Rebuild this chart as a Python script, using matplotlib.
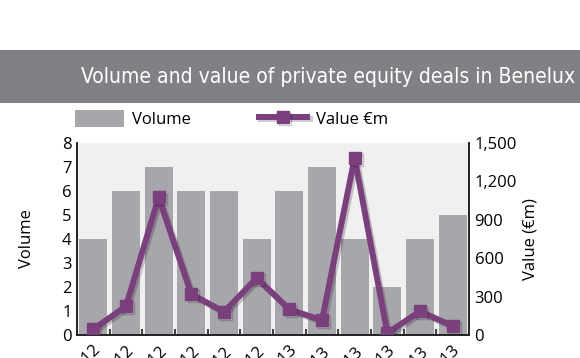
import matplotlib
matplotlib.use('Agg')
import matplotlib.pyplot as plt
import matplotlib.patheffects as pe
from matplotlib.patches import Rectangle
from matplotlib.ticker import FuncFormatter, FixedLocator

# --- data ---
months = ['Jul-12', 'Aug-12', 'Sep-12', 'Oct-12', 'Nov-12', 'Dec-12',
          'Jan-13', 'Feb-13', 'Mar-13', 'Apr-13', 'May-13', 'Jun-13']
volume = [4, 6, 7, 6, 6, 4, 6, 7, 4, 2, 4, 5]
value_em = [45, 225, 1075, 320, 180, 445, 200, 115, 1385, 15, 185, 70]

BAR_COLOR = '#a6a7aa'
LINE_COLOR = '#7b3f7e'
BANNER_COLOR = '#808184'

plt.rcParams['font.family'] = ['Open Sans', 'DejaVu Sans']

fig = plt.figure(figsize=(5.8, 3.58), dpi=100)
fig.patch.set_facecolor('white')

# title banner
fig.add_artist(Rectangle((0, 1 - 103 / 358), 1, 53 / 358, transform=fig.transFigure,
                         facecolor=BANNER_COLOR, edgecolor='none'))
fig.text(575 / 580, 1 - 77 / 358, 'Volume and value of private equity deals in Benelux',
         color='white', fontsize=15.1, ha='right', va='center',
         family='DejaVu Sans', fontstretch='condensed')

ax = fig.add_axes([77 / 580, 1 - 335 / 358, 392 / 580, 192 / 358])
ax.set_facecolor('#f0f0f0')
x = list(range(len(months)))
bars = ax.bar(x, volume, width=0.86, color=BAR_COLOR, edgecolor='none', label='Volume', zorder=2)
ax.set_xlim(-0.5, len(months) - 0.5)
ax.set_ylim(0, 8)
ax.set_yticks(range(0, 9))
ax.set_ylabel('Volume', fontsize=12, labelpad=19)

ax2 = ax.twinx()
line, = ax2.plot(x, value_em, color=LINE_COLOR, lw=4.3, marker='s', markersize=8.5,
                 label='Value €m', zorder=3,
                 path_effects=[pe.SimpleLineShadow(offset=(1.5, -1.5), shadow_color='k', alpha=0.2),
                               pe.Normal()])
ax2.set_ylim(0, 1500)
ax2.set_yticks(range(0, 1501, 300))
ax2.yaxis.set_major_formatter(FuncFormatter(lambda v, p: f'{int(v):,}'))
ax2.set_ylabel('Value (€m)', fontsize=12, labelpad=4)

for a in (ax, ax2):
    a.spines['top'].set_visible(False)
    for s in ('left', 'right', 'bottom'):
        a.spines[s].set_color('#222222')
        a.spines[s].set_linewidth(1.2)
    a.tick_params(axis='y', length=0, labelsize=12, pad=4)

# x ticks: marks between categories, labels at centre
ax.xaxis.set_major_locator(FixedLocator([i + 0.5 for i in x[:-1]]))
ax.tick_params(axis='x', which='major', direction='in', length=4, width=1.2,
               color='#222222', labelbottom=False)
ax.set_xticks(x, minor=True)
ax.set_xticklabels(months, minor=True, rotation=45, ha='right', rotation_mode='anchor')
ax.tick_params(axis='x', which='minor', length=0, labelsize=12, pad=6)

leg = ax2.legend([bars, line], ['Volume', 'Value €m'], ncol=2, frameon=False,
                 fontsize=12, handlelength=2.9, handleheight=1.2, numpoints=1,
                 columnspacing=4.1, handletextpad=0.5,
                 loc='lower left', bbox_to_anchor=(-0.03, 1.025), borderaxespad=0.2)

fig.savefig('out.png', dpi=100)
